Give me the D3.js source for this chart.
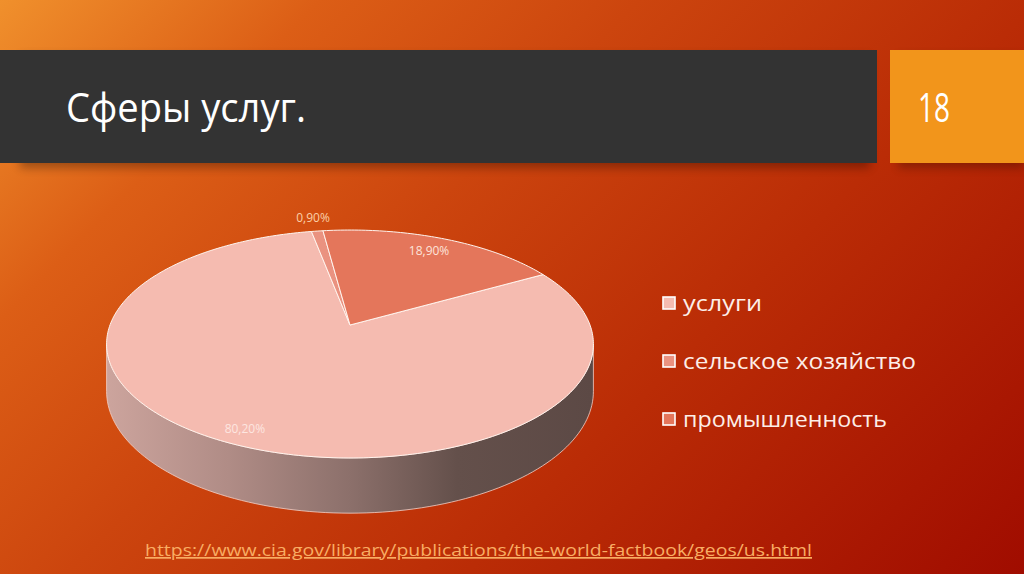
<!DOCTYPE html>
<html><head><meta charset="utf-8">
<script src="https://cdn.jsdelivr.net/npm/d3@7"></script>
<style>html,body{margin:0;padding:0;overflow:hidden;background:#c8420e}</style>
</head><body>
<script>
const categories = ["услуги", "сельское хозяйство", "промышленность"];
const values = [80.2, 0.9, 18.9];
const valueLabels = ["80,20%", "0,90%", "18,90%"];
const colors = ["#f5bbb0", "#ea9280", "#e4765b"];
const title = "Сферы услуг.";
const slideNumber = "18";
const sourceUrl = "https://www.cia.gov/library/publications/the-world-factbook/geos/us.html";

const W = 1024, H = 574;
const svg = d3.select("body").append("svg").attr("width", W).attr("height", H);
const defs = svg.append("defs");

const bg = defs.append("linearGradient").attr("id","bg").attr("gradientUnits","userSpaceOnUse")
  .attr("x1",0).attr("y1",0).attr("x2",799).attr("y2",799);
[[0,"#f0902c"],[0.2,"#dc5e16"],[0.4,"#cc450e"],[0.65,"#ba2c06"],[1,"#a00c00"]].forEach(s=>bg.append("stop").attr("offset",s[0]).attr("stop-color",s[1]));
svg.append("rect").attr("width",W).attr("height",H).attr("fill","url(#bg)");

const blur = defs.append("filter").attr("id","sh").attr("x","-5%").attr("y","-20%").attr("width","110%").attr("height","150%");
blur.append("feGaussianBlur").attr("stdDeviation",5);

// header
svg.append("rect").attr("x",20).attr("y",56).attr("width",850).attr("height",112).attr("fill","#000").attr("opacity",0.3).attr("filter","url(#sh)");
svg.append("rect").attr("x",898).attr("y",56).attr("width",126).attr("height",112).attr("fill","#000").attr("opacity",0.25).attr("filter","url(#sh)");
svg.append("rect").attr("x",0).attr("y",50).attr("width",877).attr("height",113).attr("fill","#333333");
svg.append("rect").attr("x",890).attr("y",50).attr("width",134).attr("height",113).attr("fill","#f2951b");
svg.append("text").attr("x",66).attr("y",122).text(title)
  .attr("font-family","Open Sans").attr("font-size",40).attr("fill","#fff")
  .attr("textLength",240).attr("lengthAdjust","spacingAndGlyphs");
svg.append("text").attr("x",918).attr("y",122).text(slideNumber)
  .attr("font-family","Open Sans").attr("font-size",40).attr("fill","#fff")
  .attr("textLength",32).attr("lengthAdjust","spacingAndGlyphs");

// 3D pie with perspective
const cx = 350, cy = 325, RX = 240, RY = 110.8, K = 0.1667, T = 46;
const deg = Math.PI/180;
function proj(theta, f) {
  f = f === undefined ? 1 : f;
  const x = f*Math.sin(theta), y = -f*Math.cos(theta);
  const d = 1 - K*y;
  return [cx + RX*x/d, cy + RY*y/d];
}
function thick(theta){ return T/(1 + K*Math.cos(theta)); }

const start = 60.5*deg;
const pie = d3.pie().sort(null).value(d=>d).startAngle(start).endAngle(start + 2*Math.PI);
const arcs = pie(values);
const line = d3.line();

// side wall (front half)
const sideGrad = defs.append("linearGradient").attr("id","side").attr("gradientUnits","userSpaceOnUse")
  .attr("x1",cx-RX-3).attr("y1",0).attr("x2",cx+RX+3).attr("y2",0);
[[0,"#cca49d"],[0.25,"#b08c86"],[0.5,"#8c706b"],[0.72,"#64504b"],[1,"#5c4945"]].forEach(s=>sideGrad.append("stop").attr("offset",s[0]).attr("stop-color",s[1]));
const a0 = Math.PI/2 + Math.asin(K), a1 = 1.5*Math.PI - Math.asin(K);
const topPts = d3.range(0,101).map(i=>{const t=a0+(a1-a0)*i/100; return proj(t);});
const botPts = d3.range(100,-1,-1).map(i=>{const t=a0+(a1-a0)*i/100; const p=proj(t); return [p[0], p[1]+thick(t)];});
svg.append("path").attr("d", line(topPts.concat(botPts))+"Z").attr("fill","url(#side)")
  .attr("stroke","#f3d0c8").attr("stroke-width",0.8);

// top face slices
svg.append("g").selectAll("path").data(arcs).join("path")
  .attr("d", a=>{
    const n = Math.max(4, Math.ceil((a.endAngle-a.startAngle)/deg));
    const pts = [proj(0,0)].concat(d3.range(0,n+1).map(i=>proj(a.startAngle+(a.endAngle-a.startAngle)*i/n)));
    return line(pts)+"Z";
  })
  .attr("fill",(a,i)=>colors[i]).attr("stroke","#fff4ee").attr("stroke-width",1).attr("stroke-linejoin","round");

// data labels
const labelColors = ["#fde6e0", "#fbd0a8", "#fde3da"];
svg.append("g").selectAll("text").data(arcs).join("text")
  .attr("transform", a=>{
    const mid = (a.startAngle+a.endAngle)/2;
    const small = (a.endAngle-a.startAngle) < 0.2;
    const p = proj(mid, small ? 1.15 : (a.value > 50 ? 0.9 : 0.83));
    return `translate(${p[0]},${p[1]})`;
  })
  .attr("text-anchor","middle").attr("dominant-baseline","middle")
  .attr("font-family","Open Sans").attr("font-size",12)
  .attr("fill",(a,i)=>labelColors[i])
  .text((a,i)=>valueLabels[i]);

// legend
const lg = svg.append("g").selectAll("g").data(categories).join("g")
  .attr("transform",(d,i)=>`translate(663,${303+i*58})`);
lg.append("rect").attr("x",0).attr("y",-6).attr("width",12).attr("height",12)
  .attr("fill",(d,i)=>colors[i]).attr("stroke","#fff").attr("stroke-width",1.6);
const legendLens = [79, 233, 204];
lg.append("text").attr("x",20).attr("y",8).text(d=>d)
  .attr("font-family","Open Sans").attr("font-size",22).attr("fill","#fdeee8")
  .attr("textLength",(d,i)=>legendLens[i]).attr("lengthAdjust","spacingAndGlyphs");

// source link
svg.append("text").attr("x",145).attr("y",556).text(sourceUrl)
  .attr("font-family","Open Sans").attr("font-size",17).attr("fill","#f9ad63")
  .attr("text-decoration","underline")
  .attr("textLength",667).attr("lengthAdjust","spacingAndGlyphs");
</script>
</body></html>
